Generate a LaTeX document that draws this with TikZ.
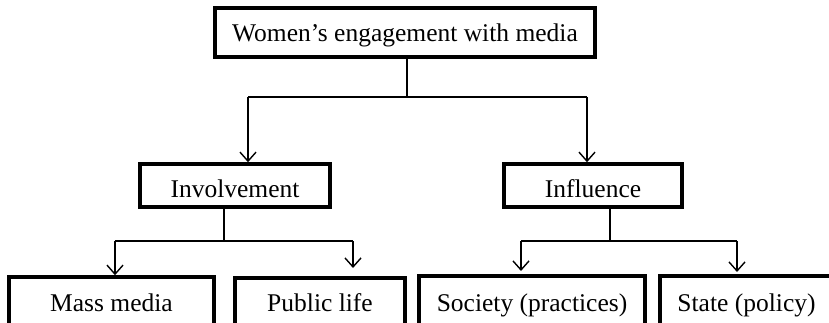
\documentclass[tikz,border=0pt]{standalone}
\usepackage{fontspec}
\setmainfont{Liberation Serif}
\usetikzlibrary{arrows.meta}

\tikzset{
  box/.style={draw, line width=3.6pt, inner sep=0pt, align=center,
    font=\fontsize{25.5}{30}\selectfont, text height=16.9pt, text depth=0pt},
  lowtext/.style={text height=23.5pt},
  link/.style={line width=1.4pt},
  arr/.style={link, -{Straight Barb[length=9pt,width=16pt,line width=1.4pt]}}
}

\begin{document}
\begin{tikzpicture}[x=1pt,y=-1pt]
  \useasboundingbox (0,0) rectangle (829,323);
  \clip (0,0) rectangle (829,323);

  % boxes
  \node[box, text height=18.9pt, minimum width=380, minimum height=49] (top) at (405,32.5) {Women’s engagement with media};
  \node[box, lowtext, minimum width=190, minimum height=43] (inv) at (235,185.5) {Involvement};
  \node[box, lowtext, minimum width=178, minimum height=43] (inf) at (593,185.5) {Influence};
  \node[box, minimum width=205, minimum height=52] (mass) at (111.5,303) {Mass media};
  \node[box, minimum width=170, minimum height=50] (pub) at (320,303) {Public life};
  \node[box, minimum width=226, minimum height=54] (soc) at (532,303) {Society (practices)};
  \node[box, minimum width=173, minimum height=54] (sta) at (746.5,303) {State (policy)};

  % junction points
  \coordinate (j0) at (407,97);
  \coordinate (jl) at (248,97);
  \coordinate (jr) at (587,97);
  \coordinate (k0) at (224,241);
  \coordinate (kl) at (115,241);
  \coordinate (kr) at (353,241);
  \coordinate (m0) at (610,241);
  \coordinate (ml) at (521,241);
  \coordinate (mr) at (737,241);
  \coordinate (pubtip) at (353,268);
  \coordinate (soctip) at (521,271);
  \coordinate (statip) at (737,272);

  % top level
  \draw[link] (j0 |- top.south) -- (j0);
  \draw[link] (jl) -- (jr);
  \draw[arr] (jl) -- (jl |- inv.north);
  \draw[arr] (jr) -- (jr |- inf.north);

  % involvement branch
  \draw[link] (k0 |- inv.south) -- (k0);
  \draw[link] (kl) -- (kr);
  \draw[arr] (kl) -- (kl |- mass.north);
  \draw[arr] (kr) -- (pubtip);

  % influence branch
  \draw[link] (m0 |- inf.south) -- (m0);
  \draw[link] (ml) -- (mr);
  \draw[arr] (ml) -- (soctip);
  \draw[arr] (mr) -- (statip);
\end{tikzpicture}
\end{document}
